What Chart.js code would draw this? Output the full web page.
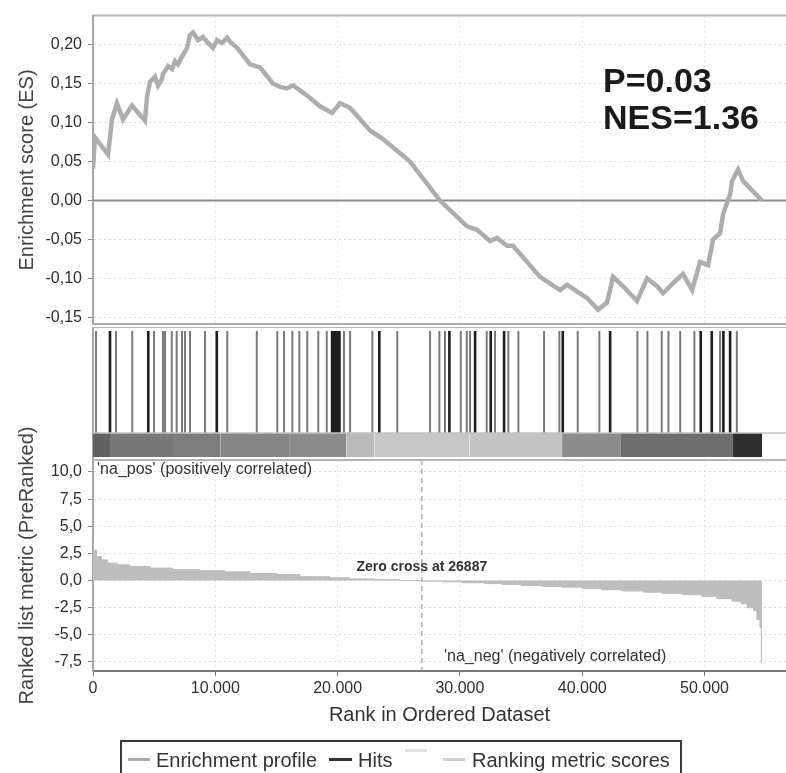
<!DOCTYPE html>
<html>
<head>
<meta charset="utf-8">
<script src="https://cdn.jsdelivr.net/npm/chart.js@4.4.1/dist/chart.umd.min.js"></script>
<style>
  html, body { margin: 0; padding: 0; background: #fff; }
  #wrap { position: relative; width: 786px; height: 773px; overflow: hidden; font-family: "Liberation Sans", Arial, sans-serif; }
  #wrap canvas { position: absolute; left: 0; }
  #legend { position: absolute; left: 120px; top: 740px; width: 562px; height: 50px; border: 2px solid #3a3a3a; box-sizing: border-box; }
  #legend .sw { position: absolute; height: 3px; }
  #legend .tx { position: absolute; top: 6px; font-size: 20px; line-height: 24px; color: #333; white-space: nowrap; }
</style>
</head>
<body>
<div id="wrap">
  <canvas id="esChart" width="786" height="340" style="top:0"></canvas>
  <canvas id="hitChart" width="786" height="133" style="top:327px"></canvas>
  <canvas id="metricChart" width="786" height="340" style="top:400px"></canvas>
  <div id="legend">
    <div class="sw" style="left:6px;top:16px;width:22px;background:#a9a9a9"></div>
    <div class="tx" style="left:34px">Enrichment profile</div>
    <div class="sw" style="left:207px;top:16px;width:23px;background:#333"></div>
    <div class="tx" style="left:236px">Hits</div>
    <div class="sw" style="left:283px;top:7px;width:22px;background:#e2e2e2"></div>
    <div class="sw" style="left:321px;top:16px;width:22px;background:#cfcfcf"></div>
    <div class="tx" style="left:350px">Ranking metric scores</div>
  </div>
</div>
<script>
// running enrichment score
const esRank = [0, 160, 1230, 1550, 1960, 2450, 3190, 4250, 4420, 4660, 5070, 5320, 5640, 5720, 6130, 6460, 6710, 6950, 7280, 7520, 7690, 7930, 8180, 8590, 8990, 9400, 9810, 10140, 10550, 10960, 11200, 11780, 12840, 13660, 14720, 15300, 15860, 16350, 17500, 18560, 19540, 20200, 21020, 22650, 23710, 25920, 28370, 30580, 31400, 32460, 33040, 33850, 34340, 36550, 38190, 38760, 39580, 40390, 41290, 42030, 42520, 43340, 44480, 45300, 46120, 46610, 47430, 48240, 48980, 49630, 50290, 50700, 51270, 51520, 52090, 52250, 52740, 53150, 54700];
const esScore = [0.041, 0.081, 0.059, 0.104, 0.125, 0.104, 0.122, 0.1025, 0.134, 0.1525, 0.159, 0.1475, 0.156, 0.1625, 0.1725, 0.169, 0.179, 0.175, 0.185, 0.191, 0.196, 0.2125, 0.216, 0.206, 0.210, 0.2025, 0.196, 0.206, 0.2025, 0.209, 0.204, 0.196, 0.175, 0.171, 0.150, 0.146, 0.144, 0.148, 0.135, 0.121, 0.1125, 0.125, 0.119, 0.090, 0.079, 0.050, 0.000, -0.033, -0.0375, -0.052, -0.048, -0.058, -0.058, -0.098, -0.115, -0.108, -0.117, -0.125, -0.140, -0.131, -0.098, -0.110, -0.129, -0.100, -0.110, -0.119, -0.106, -0.094, -0.115, -0.079, -0.083, -0.050, -0.042, -0.017, 0.008, 0.025, 0.040, 0.025, 0.000];

// hit positions (dark = dense clusters, light = single hits)
const hitsDark = [1390, 4520, 10120, 19550, 19750, 19950, 20150, 23410, 29140, 31240, 32520, 33610, 38410, 42280, 49690, 50590, 51540, 52090];
const hitsLight = [245, 1880, 3210, 4990, 5720, 5890, 6440, 6840, 7280, 7520, 7930, 9160, 10980, 13390, 15070, 15620, 16300, 16870, 17520, 18420, 19110, 20520, 21020, 22840, 24880, 27560, 28320, 28780, 30070, 30560, 30830, 32190, 32870, 33960, 34780, 36880, 38130, 39630, 41400, 44510, 45330, 46500, 47050, 48010, 49170, 51270, 52640];

// ranked list colour bar: segment edges and grey level (0 = black, 1 = white)
const barEdges = [0, 1390, 6700, 10400, 16100, 20700, 23000, 30800, 38350, 43100, 52330, 54700];
const barLevel = [0.38, 0.47, 0.49, 0.52, 0.55, 0.73, 0.78, 0.77, 0.55, 0.43, 0.18];

// ranked list metric
const metricRank = [0, 300, 700, 1200, 2000, 3000, 4660, 6500, 8750, 10800, 12840, 15000, 16920, 19380, 21000, 23000, 25100, 26887, 28500, 30170, 32000, 33440, 35000, 36710, 38300, 39980, 41600, 43250, 45000, 46520, 48200, 49790, 51000, 52240, 53000, 53470, 54000, 54280, 54530, 54640, 54700];
const metricValue = [3.5, 2.8, 2.2, 1.9, 1.6, 1.45, 1.3, 1.15, 1.0, 0.9, 0.8, 0.65, 0.55, 0.35, 0.25, 0.15, 0.08, 0, -0.05, -0.12, -0.2, -0.28, -0.37, -0.46, -0.53, -0.61, -0.72, -0.85, -0.96, -1.07, -1.18, -1.3, -1.45, -1.67, -1.9, -2.13, -2.5, -2.75, -3.6, -4.3, -7.5];
const zeroCross = 26887;

// rank axis ticks
const rankTicks = [0, 10000, 20000, 30000, 40000, 50000];

const X_MAX = 56660;
const FONT = "'Liberation Sans', Arial, sans-serif";
Chart.defaults.font.family = FONT;

const thousands = v => String(v).replace(/\B(?=(\d{3})+(?!\d))/g, '.');
const comma = (v, d) => (Math.abs(v) < 1e-9 ? 0 : v).toFixed(d).replace('.', ',');
const setRankTicks = s => { s.ticks = rankTicks.map(v => ({ value: v })); };

// extra lines on the panel edges and text placed at data coordinates
const decor = {
    id: 'decor',
    afterDraw(chart, args, opts) {
        const { ctx, chartArea: a, scales } = chart;
        ctx.save();
        (opts.lines || []).forEach(l => {
            let y = l.at === 'top' ? a.top : l.at === 'bottom' ? a.bottom : scales.y.getPixelForValue(l.value);
            ctx.strokeStyle = l.color;
            ctx.lineWidth = l.width;
            ctx.beginPath();
            ctx.moveTo(a.left, y);
            ctx.lineTo(a.right, y);
            ctx.stroke();
        });
        (opts.labels || []).forEach(t => {
            ctx.font = t.font;
            ctx.fillStyle = t.color || '#333';
            ctx.textAlign = t.align || 'left';
            ctx.textBaseline = t.baseline || 'middle';
            ctx.fillText(t.text, scales.x.getPixelForValue(t.x), scales.y.getPixelForValue(t.y));
        });
        ctx.restore();
    }
};

const fixWidth = s => { s.width = 93; };

const baseOpts = {
    responsive: false,
    animation: false,
    devicePixelRatio: 1,
    events: [],
};

// enrichment score panel
new Chart(document.getElementById('esChart'), {
    type: 'line',
    data: {
        datasets: [
            {
                data: esRank.map((r, i) => ({ x: r, y: esScore[i] })),
                borderColor: '#adadad',
                borderWidth: 4.5,
                pointRadius: 0,
                tension: 0,
            },
            {
                data: [{ x: 0, y: 0 }, { x: X_MAX, y: 0 }],
                borderColor: '#8c8c8c',
                borderWidth: 2,
                pointRadius: 0,
            },
        ]
    },
    options: {
        ...baseOpts,
        layout: { padding: { top: 11, bottom: 13, left: 0, right: 0 } },
        plugins: {
            legend: { display: false },
            tooltip: { enabled: false },
            decor: {
                lines: [{ at: 'top', color: '#b4b4b4', width: 2 }],
                labels: [
                    { text: 'P=0.03', x: 41700, y: 0.140, font: 'bold 34px ' + FONT, color: '#1a1a1a', baseline: 'alphabetic' },
                    { text: 'NES=1.36', x: 41700, y: 0.0913, font: 'bold 34px ' + FONT, color: '#1a1a1a', baseline: 'alphabetic' },
                ]
            }
        },
        scales: {
            x: {
                type: 'linear', min: 0, max: X_MAX,
                afterFit: s => { s.height = 0; },
                afterBuildTicks: setRankTicks,
                ticks: { display: false },
                grid: { color: '#e6e6e6', drawTicks: false },
                border: { color: '#aaaaaa', width: 2, dash: [2, 3] },
            },
            y: {
                min: -0.159, max: 0.2375,
                afterFit: fixWidth,
                ticks: { stepSize: 0.05, includeBounds: false, padding: 6, color: '#2e2e2e', font: { size: 16 }, callback: v => comma(v, 2) },
                grid: { color: '#dadada', tickLength: 5, tickColor: '#8a8a8a', tickBorderDash: [] },
                border: { color: '#a6a6a6', width: 2, dash: [2, 3] },
                title: { display: true, text: 'Enrichment score (ES)', color: '#444', font: { size: 20 }, padding: { top: 15 } },
            }
        }
    },
    plugins: [decor]
});

// hits and colour bar panel
const HIT_LO = 0.203, HIT_HI = 0.97, BAR_LO = 0.022;
const hitLine = ranks => ranks.flatMap(r => [{ x: r, y: HIT_LO }, { x: r, y: HIT_HI }, { x: r, y: null }]);
const barSets = barLevel.map((lv, i) => {
    const g = Math.round(lv * 255);
    return {
        data: [{ x: barEdges[i], y: HIT_LO }, { x: barEdges[i + 1], y: HIT_LO }],
        borderWidth: 0,
        pointRadius: 0,
        backgroundColor: `rgb(${g},${g},${g})`,
        fill: { value: BAR_LO },
    };
});

new Chart(document.getElementById('hitChart'), {
    type: 'line',
    data: {
        datasets: [
            ...barSets,
            { data: hitLine(hitsLight), borderColor: '#7a7a7a', borderWidth: 2, pointRadius: 0, spanGaps: false },
            { data: hitLine(hitsDark), borderColor: '#1e1e1e', borderWidth: 2.6, pointRadius: 0, spanGaps: false },
        ]
    },
    options: {
        ...baseOpts,
        layout: { padding: 0 },
        plugins: {
            legend: { display: false },
            tooltip: { enabled: false },
            decor: {
                lines: [
                    { at: 'top', color: '#b4b4b4', width: 2 },
                    { value: HIT_LO, color: '#c2c2c2', width: 1.5 },
                    { at: 'bottom', color: '#b4b4b4', width: 2 },
                ]
            }
        },
        scales: {
            x: { type: 'linear', min: 0, max: X_MAX, display: false },
            y: {
                min: 0, max: 1,
                afterFit: fixWidth,
                ticks: { display: false },
                grid: { display: false },
                border: { display: true, color: '#a6a6a6', width: 2 },
            }
        }
    },
    plugins: [decor]
});

// ranked list metric panel
const M_MIN = -8.33, M_MAX = 11.1;
new Chart(document.getElementById('metricChart'), {
    type: 'line',
    data: {
        datasets: [
            {
                data: metricRank.map((r, i) => ({ x: r, y: metricValue[i] })),
                borderColor: '#bcbcbc',
                backgroundColor: '#bdbdbd',
                borderWidth: 1,
                pointRadius: 0,
                stepped: 'after',
                fill: 'origin',
            },
            {
                data: [{ x: zeroCross, y: M_MAX }, { x: zeroCross, y: M_MIN }],
                borderColor: '#9a9a9a',
                borderWidth: 1.2,
                borderDash: [5, 4],
                pointRadius: 0,
            },
        ]
    },
    options: {
        ...baseOpts,
        layout: { padding: { top: 60, bottom: 0, left: 0, right: 0 } },
        plugins: {
            legend: { display: false },
            tooltip: { enabled: false },
            decor: {
                lines: [{ at: 'top', color: '#b4b4b4', width: 2 }],
                labels: [
                    { text: "'na_pos' (positively correlated)", x: 330, y: 10.18, font: '16px ' + FONT, color: '#333' },
                    { text: 'Zero cross at ' + zeroCross, x: zeroCross, y: 1.25, font: 'bold 14px ' + FONT, color: '#333', align: 'center' },
                    { text: "'na_neg' (negatively correlated)", x: 28700, y: -7.03, font: '16px ' + FONT, color: '#333' },
                ]
            }
        },
        scales: {
            x: {
                type: 'linear', min: 0, max: X_MAX,
                afterFit: s => { s.height = 69; },
                afterBuildTicks: setRankTicks,
                ticks: { maxRotation: 0, autoSkip: false, padding: 3, color: '#2e2e2e', font: { size: 16 }, callback: v => thousands(v) },
                grid: { color: '#e2e2e2', tickLength: 5, tickColor: '#777', tickBorderDash: [] },
                border: { color: '#777', width: 2, dash: [2, 3] },
                title: { display: true, text: 'Rank in Ordered Dataset', color: '#333', font: { size: 20 }, padding: { top: 0, bottom: 13 } },
            },
            y: {
                min: M_MIN, max: M_MAX,
                afterFit: fixWidth,
                ticks: { stepSize: 2.5, includeBounds: false, padding: 6, color: '#2e2e2e', font: { size: 16 }, callback: v => comma(v, 1) },
                grid: { color: '#dadada', tickLength: 5, tickColor: '#8a8a8a', tickBorderDash: [] },
                border: { color: '#a6a6a6', width: 2, dash: [2, 3] },
                title: { display: true, text: 'Ranked list metric (PreRanked)', color: '#444', font: { size: 20 }, padding: { top: 15 } },
            }
        }
    },
    plugins: [decor]
});
</script>
</body>
</html>
